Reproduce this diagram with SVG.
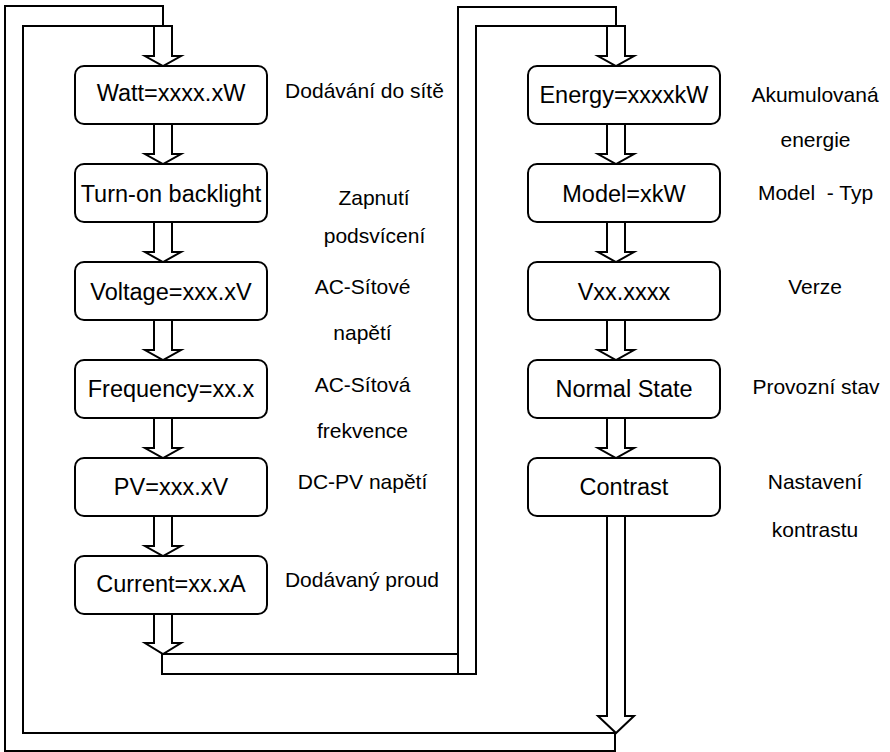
<svg xmlns="http://www.w3.org/2000/svg" width="890" height="752" viewBox="0 0 890 752">
<style>
.box{fill:#fff;stroke:#000;stroke-width:2}
.ln{fill:none;stroke:#000;stroke-width:2;stroke-linejoin:miter}
.arr{fill:#fff;stroke:#000;stroke-width:2;stroke-linejoin:miter}
.bt{font-family:"Liberation Sans",Arial,sans-serif;font-size:23.5px;fill:#000;text-anchor:middle}
.an{font-family:"Liberation Sans",Arial,sans-serif;font-size:21px;fill:#000;text-anchor:middle}
</style>
<rect width="890" height="752" fill="#fff"/>
<g id="connectors">
  <!-- outer loop: left band + bottom band -->
  <path class="ln" d="M163,26 V6 H5 V751 H615 V733 H23 V26 H163"/>
  <!-- middle loop -->
  <path class="ln" d="M616,26 V7 H458 V674 M458,654 H162 V674 H476 V26 H616"/>
  <!-- arrows left column -->
  <polygon class="arr" points="154,26 172,26 172,56 181,56 163,66 145,56 154,56"/>
  <polygon class="arr" points="154,124 172,124 172,154 181,154 163,164 145,154 154,154"/>
  <polygon class="arr" points="154,222 172,222 172,252 181,252 163,262 145,252 154,252"/>
  <polygon class="arr" points="154,320 172,320 172,350 181,350 163,360 145,350 154,350"/>
  <polygon class="arr" points="154,418 172,418 172,448 181,448 163,458 145,448 154,448"/>
  <polygon class="arr" points="154,516 172,516 172,546 181,546 163,556 145,546 154,546"/>
  <polygon class="arr" points="154,614 172,614 172,643 181,643 163,654 145,643 154,643"/>
  <!-- arrows right column -->
  <polygon class="arr" points="607,26 625,26 625,56 634,56 616,66 598,56 607,56"/>
  <polygon class="arr" points="607,124 625,124 625,154 634,154 616,164 598,154 607,154"/>
  <polygon class="arr" points="607,222 625,222 625,252 634,252 616,262 598,252 607,252"/>
  <polygon class="arr" points="607,320 625,320 625,350 634,350 616,360 598,350 607,350"/>
  <polygon class="arr" points="607,418 625,418 625,448 634,448 616,458 598,448 607,448"/>
  <polygon class="arr" points="607,516 625,516 625,716 634,716 616,733 598,716 607,716"/>
</g>
<g id="n-watt"><rect class="box" x="75" y="66" width="192" height="58" rx="9"/><text class="bt" x="171" y="100.5">Watt=xxxx.xW</text></g>
<g id="n-backlight"><rect class="box" x="75" y="164" width="192" height="58" rx="9"/><text class="bt" x="171" y="201.5">Turn-on backlight</text></g>
<g id="n-voltage"><rect class="box" x="75" y="262" width="192" height="58" rx="9"/><text class="bt" x="171" y="300">Voltage=xxx.xV</text></g>
<g id="n-frequency"><rect class="box" x="75" y="360" width="192" height="58" rx="9"/><text class="bt" x="171" y="397">Frequency=xx.x</text></g>
<g id="n-pv"><rect class="box" x="75" y="458" width="192" height="58" rx="9"/><text class="bt" x="171" y="495">PV=xxx.xV</text></g>
<g id="n-current"><rect class="box" x="75" y="556" width="192" height="58" rx="9"/><text class="bt" x="171" y="592">Current=xx.xA</text></g>
<g id="n-energy"><rect class="box" x="528" y="66" width="192" height="58" rx="9"/><text class="bt" x="624" y="103">Energy=xxxxkW</text></g>
<g id="n-model"><rect class="box" x="528" y="164" width="192" height="58" rx="9"/><text class="bt" x="624" y="201.5">Model=xkW</text></g>
<g id="n-version"><rect class="box" x="528" y="262" width="192" height="58" rx="9"/><text class="bt" x="624" y="300">Vxx.xxxx</text></g>
<g id="n-normal"><rect class="box" x="528" y="360" width="192" height="58" rx="9"/><text class="bt" x="624" y="397">Normal State</text></g>
<g id="n-contrast"><rect class="box" x="528" y="458" width="192" height="58" rx="9"/><text class="bt" x="624" y="495">Contrast</text></g>
<g id="labels">
  <text class="an" x="364.5" y="98">Dodávání do sítě</text>
  <text class="an" x="374" y="205">Zapnutí</text>
  <text class="an" x="374.5" y="243">podsvícení</text>
  <text class="an" x="362.5" y="294">AC-Sítové</text>
  <text class="an" x="362.5" y="340">napětí</text>
  <text class="an" x="362.5" y="392">AC-Sítová</text>
  <text class="an" x="362.5" y="438">frekvence</text>
  <text class="an" x="362.5" y="489">DC-PV napětí</text>
  <text class="an" x="362" y="587">Dodávaný proud</text>
  <text class="an" x="815" y="102">Akumulovaná</text>
  <text class="an" x="815.5" y="147">energie</text>
  <text class="an" x="815.5" y="200" xml:space="preserve">Model  - Typ</text>
  <text class="an" x="815" y="294">Verze</text>
  <text class="an" x="816" y="394">Provozní stav</text>
  <text class="an" x="815" y="489">Nastavení</text>
  <text class="an" x="815" y="537">kontrastu</text>
</g>
</svg>
